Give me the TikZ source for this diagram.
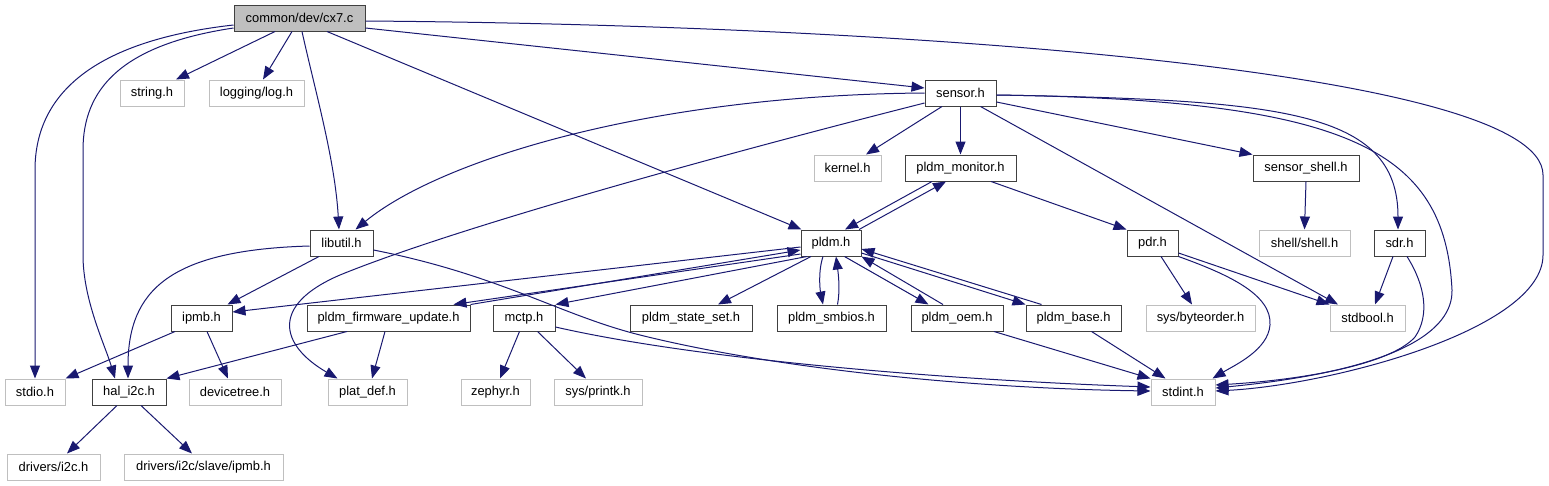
\documentclass[tikz,border=0pt]{standalone}
\usepackage{fontspec}
\setmainfont{Liberation Sans}
\usetikzlibrary{arrows.meta}
\definecolor{edgeblue}{HTML}{191970}
\definecolor{boxline}{HTML}{404040}
\definecolor{sysline}{HTML}{BFBFBF}
\definecolor{rootfill}{HTML}{BFBFBF}

\begin{document}
\begin{tikzpicture}[x=1pt,y=-1pt,
  hdr/.style={draw=boxline,line width=1pt,minimum height=26pt,inner sep=0pt,
    font=\fontsize{12.9}{15}\selectfont},
  sys/.style={hdr,draw=sysline},
  edge/.style={-{Triangle[length=13pt,width=10pt]},draw=edgeblue,line width=1pt}]
  \useasboundingbox (0,0) rectangle (1549,485);
  % top row
  \node[hdr,fill=rootfill,minimum width=131pt] (cx7) at (299.5,18) {common/dev/cx7.c};
  \node[sys,minimum width=64pt] (string) at (152,93) {string.h};
  \node[sys,minimum width=95pt] (logh) at (256.5,93) {logging/log.h};
  \node[hdr,minimum width=71pt] (sensor) at (960.5,93) {sensor.h};
  \node[sys,minimum width=67pt] (kernel) at (847.5,168) {kernel.h};
  \node[hdr,minimum width=111pt] (monitor) at (960.5,168) {pldm\_monitor.h};
  \node[hdr,minimum width=106pt] (sshell) at (1306,168) {sensor\_shell.h};
  \node[hdr,minimum width=63pt] (libutil) at (341.5,243) {libutil.h};
  \node[hdr,minimum width=60pt] (pldm) at (831,243) {pldm.h};
  \node[hdr,minimum width=51pt] (pdr) at (1152.5,243) {pdr.h};
  \node[sys,minimum width=91pt] (shell) at (1304.5,243) {shell/shell.h};
  \node[hdr,minimum width=51pt] (sdr) at (1399.5,243) {sdr.h};
  % pldm level
  \node[hdr,minimum width=61pt] (ipmb) at (201.5,318) {ipmb.h};
  \node[hdr,minimum width=163pt] (fwupd) at (388.5,318) {pldm\_firmware\_update.h};
  \node[hdr,minimum width=62pt] (mctp) at (524,318) {mctp.h};
  \node[hdr,minimum width=122pt] (stateset) at (691,318) {pldm\_state\_set.h};
  \node[hdr,minimum width=109pt] (smbios) at (831.5,318) {pldm\_smbios.h};
  \node[hdr,minimum width=92pt] (oem) at (957,318) {pldm\_oem.h};
  \node[hdr,minimum width=95pt] (base) at (1073.5,318) {pldm\_base.h};
  \node[sys,minimum width=109pt] (byteorder) at (1200.5,318) {sys/byteorder.h};
  \node[sys,minimum width=75pt] (stdbool) at (1367.5,318) {stdbool.h};
  % bottom
  \node[sys,minimum width=60pt] (stdio) at (35,392) {stdio.h};
  \node[hdr,minimum width=74pt] (hali2c) at (129,392) {hal\_i2c.h};
  \node[sys,minimum width=92pt] (devtree) at (235,392) {devicetree.h};
  \node[sys,minimum width=79pt] (platdef) at (367.5,392) {plat\_def.h};
  \node[sys,minimum width=69pt] (zephyr) at (495.5,392) {zephyr.h};
  \node[sys,minimum width=88pt] (printk) at (598,392) {sys/printk.h};
  \node[sys,minimum width=64pt] (stdint) at (1183,392) {stdint.h};
  \node[sys,minimum width=93pt] (i2c) at (53.5,467) {drivers/i2c.h};
  \node[sys,minimum width=159pt] (slaveipmb) at (203.5,467) {drivers/i2c/slave/ipmb.h};

  % cx7.c
  \draw[edge] ([xshift=-24.5pt]cx7.south) -- ([xshift=24pt]string.north);
  \draw[edge] ([xshift=-7.5pt]cx7.south) -- ([xshift=6.5pt]logh.north);
  \draw[edge] ([xshift=2.5pt]cx7.south) .. controls +(13,59) and +(-4,-70) .. ([xshift=-2.5pt]libutil.north);
  \draw[edge] ([xshift=27.5pt]cx7.south) -- ([xshift=1pt]pldm.north west);
  \draw[edge] ([yshift=-10pt]cx7.east) -- ([yshift=5pt]sensor.west);
  \draw[edge] ([yshift=-3pt]cx7.east) .. controls (900,25) and (1543,70) .. (1543,175)
    -- (1543,255) .. controls (1543,330) and (1330,385) .. ([yshift=1pt]stdint.east);
  \draw[edge] ([yshift=-7pt]cx7.west) .. controls (100,40) and (35,90) .. (35,170) -- (stdio.north);
  \draw[edge] ([yshift=-10pt]cx7.west) .. controls (120,45) and (83,90) .. (83,150)
    -- (83,255) .. controls (83,300) and (105,345) .. ([xshift=-14pt]hali2c.north);

  % sensor.h
  \draw[edge] (sensor.west) .. controls (650,95) and (440,160) .. ([xshift=14pt]libutil.north);
  \draw[edge] ([yshift=-10pt]sensor.west) .. controls (700,160) and (450,230) .. (340,275)
    .. controls (270,305) and (280,345) .. ([xshift=-30pt]platdef.north);
  \draw[edge] ([xshift=-18.5pt]sensor.south) -- ([xshift=18.5pt]kernel.north);
  \draw[edge] (sensor.south) -- (monitor.north);
  \draw[edge] ([yshift=-9pt]sensor.east) -- (sshell.north west);
  \draw[edge] ([xshift=20pt]sensor.south) -- ([xshift=-29.5pt]stdbool.north);
  \draw[edge] ([yshift=-2pt]sensor.east) .. controls (1280,100) and (1398,110) .. ([xshift=-1.5pt]sdr.north);
  \draw[edge] ([yshift=-2pt]sensor.east) .. controls (1350,100) and (1445,150) .. (1452,290)
    .. controls (1453,330) and (1400,370) .. ([yshift=4pt]stdint.east);

  % pldm_monitor.h
  \draw[edge] ([xshift=-28.5pt]monitor.south) -- ([xshift=14pt]pldm.north);
  \draw[edge] ([xshift=28pt]pldm.north) -- ([xshift=-14.5pt]monitor.south);
  \draw[edge] ([xshift=30.5pt]monitor.south) -- (pdr.north west);

  % libutil.h
  \draw[edge] ([xshift=-22.5pt]libutil.south) -- ([xshift=-5pt]ipmb.north east);
  \draw[edge] ([yshift=-3pt]libutil.west) .. controls (170,250) and (128,290) .. ([xshift=-1pt]hali2c.north);
  \draw[edge] ([yshift=-7pt]libutil.east) .. controls (500,275) and (560,315) .. (640,335)
    .. controls (760,365) and (950,388) .. ([yshift=1pt]stdint.west);

  % pldm.h
  \draw[edge] ([yshift=-4pt]pldm.west) -- ([yshift=6pt]ipmb.east);
  \draw[edge] ([yshift=-11pt]pldm.west) -- ([xshift=-17pt]fwupd.north east);
  \draw[edge] (fwupd.north east) -- ([yshift=-7pt]pldm.west);
  \draw[edge] ([xshift=-24pt]pldm.south) -- (mctp.north east);
  \draw[edge] ([xshift=-20pt]pldm.south) -- ([xshift=27pt]stateset.north);
  \draw[edge] ([xshift=-8pt]pldm.south) .. controls +(-5,15) and +(-3,-15) .. ([xshift=-8.5pt]smbios.north);
  \draw[edge] ([xshift=6pt]smbios.north) .. controls +(3,-15) and +(2,15) .. ([xshift=5pt]pldm.south);
  \draw[edge] ([xshift=13.5pt]pldm.south) -- ([xshift=-28.5pt]oem.north);
  \draw[edge] ([xshift=-14pt]oem.north) -- (pldm.south east);
  \draw[edge] ([yshift=-10pt]pldm.east) -- (base.north west);
  \draw[edge] ([xshift=16pt]base.north west) -- ([yshift=-6pt]pldm.east);

  % lower rows
  \draw[edge] ([xshift=-41.5pt]fwupd.south) -- (hali2c.north east);
  \draw[edge] ([xshift=-3.5pt]fwupd.south) -- ([xshift=4.5pt]platdef.north);
  \draw[edge] ([xshift=-26.5pt]ipmb.south) -- (stdio.north east);
  \draw[edge] ([xshift=5.5pt]ipmb.south) -- ([xshift=-7pt]devtree.north);
  \draw[edge] ([xshift=-4.5pt]mctp.south) -- ([xshift=4.5pt]zephyr.north);
  \draw[edge] ([xshift=13.5pt]mctp.south) -- ([xshift=-12pt]printk.north);
  \draw[edge] ([yshift=-9pt]mctp.east) .. controls (700,360) and (950,380) .. ([yshift=5pt]stdint.west);
  \draw[edge] ([xshift=-9.5pt]oem.south east) -- (stdint.north west);
  \draw[edge] ([xshift=18pt]base.south) -- ([xshift=15pt]stdint.north west);
  \draw[edge] ([xshift=8.5pt]pdr.south) -- ([xshift=-8.5pt]byteorder.north);
  \draw[edge] ([yshift=-10pt]pdr.east) -- (stdbool.north west);
  \draw[edge] (pdr.south east) .. controls (1230,275) and (1272,295) .. (1270,325)
    .. controls (1268,350) and (1235,365) .. ([xshift=-3pt]stdint.north east);
  \draw[edge] (sshell.south) -- (shell.north);
  \draw[edge] ([xshift=-6.5pt]sdr.south) -- ([xshift=7.5pt]stdbool.north);
  \draw[edge] ([xshift=7.5pt]sdr.south) .. controls (1425,285) and (1430,315) .. (1415,337)
    .. controls (1390,365) and (1300,380) .. ([yshift=7pt]stdint.east);
  \draw[edge] ([xshift=-12pt]hali2c.south) -- ([xshift=13.5pt]i2c.north);
  \draw[edge] ([xshift=12pt]hali2c.south) -- ([xshift=-11.5pt]slaveipmb.north);
\end{tikzpicture}
\end{document}
